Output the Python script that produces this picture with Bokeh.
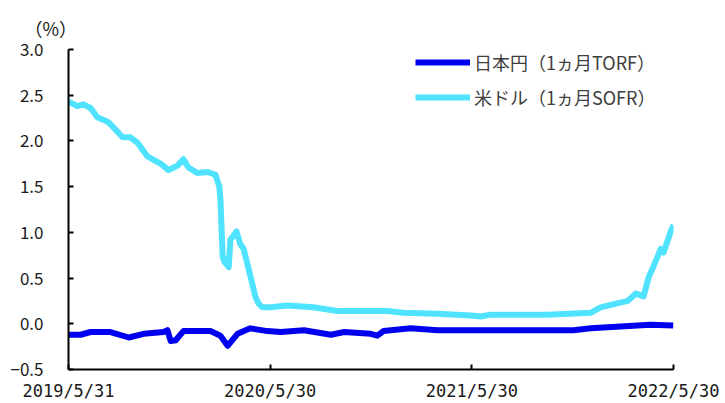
import pandas as pd
from bokeh.plotting import figure
from bokeh.models import FixedTicker, Legend, LegendItem, ColumnDataSource
from bokeh.embed import file_html
from bokeh.resources import INLINE

# ---- data ----
start_date = "2019-05-31"

sofr_dates = ["2019-05-31", "2019-06-16", "2019-06-27", "2019-07-10", "2019-07-22", "2019-08-10",
              "2019-08-20", "2019-09-06", "2019-09-20", "2019-10-03", "2019-10-21", "2019-11-14",
              "2019-11-28", "2019-12-14", "2019-12-25", "2020-01-03", "2020-01-19", "2020-02-07",
              "2020-02-21", "2020-02-28", "2020-03-01", "2020-03-05", "2020-03-08", "2020-03-16",
              "2020-03-19", "2020-03-30", "2020-04-06", "2020-04-12", "2020-04-21", "2020-04-28",
              "2020-05-03", "2020-05-09", "2020-05-16", "2020-05-31", "2020-06-30", "2020-08-16",
              "2020-09-29", "2020-11-28", "2020-12-28", "2021-01-26", "2021-03-29", "2021-05-28",
              "2021-06-15", "2021-07-03", "2021-08-13", "2021-10-14", "2021-12-31", "2022-01-18",
              "2022-03-08", "2022-03-23", "2022-04-06", "2022-04-15", "2022-04-24", "2022-05-07",
              "2022-05-12", "2022-05-25", "2022-05-30"]
sofr_values = [2.43, 2.38, 2.40, 2.36, 2.26, 2.21,
               2.15, 2.04, 2.04, 1.98, 1.83, 1.75,
               1.68, 1.73, 1.80, 1.71, 1.65, 1.66,
               1.63, 1.50, 1.36, 0.74, 0.68, 0.62,
               0.92, 1.01, 0.87, 0.82, 0.60, 0.43,
               0.30, 0.22, 0.18, 0.18, 0.20, 0.18,
               0.14, 0.14, 0.14, 0.12, 0.11, 0.09,
               0.08, 0.10, 0.10, 0.10, 0.12, 0.18,
               0.25, 0.33, 0.30, 0.51, 0.63, 0.82,
               0.78, 1.01, 1.08]

torf_dates = ["2019-05-31", "2019-06-22", "2019-07-10", "2019-08-15", "2019-09-17", "2019-10-14",
              "2019-11-19", "2019-11-26", "2019-12-02", "2019-12-11", "2019-12-25", "2020-02-12",
              "2020-03-01", "2020-03-14", "2020-04-01", "2020-04-24", "2020-05-25", "2020-06-18",
              "2020-07-30", "2020-09-17", "2020-10-11", "2020-11-28", "2020-12-10", "2020-12-21",
              "2021-02-08", "2021-03-29", "2021-05-28", "2021-08-13", "2021-11-30", "2021-12-31",
              "2022-04-18", "2022-05-30"]
torf_values = [-0.12, -0.12, -0.09, -0.09, -0.15, -0.11,
               -0.09, -0.07, -0.19, -0.18, -0.08, -0.08,
               -0.13, -0.24, -0.11, -0.05, -0.08, -0.09,
               -0.07, -0.12, -0.09, -0.11, -0.13, -0.08,
               -0.05, -0.07, -0.07, -0.07, -0.07, -0.05,
               -0.01, -0.02]

series_names = ["日本円（1ヵ月TORF）", "米ドル（1ヵ月SOFR）"]

x_tick_dates = ["2019-05-31", "2020-05-30", "2021-05-30", "2022-05-30"]
x_tick_labels = ["2019/5/31", "2020/5/30", "2021/5/30", "2022/5/30"]

y_ticks = [-0.5, 0.0, 0.5, 1.0, 1.5, 2.0, 2.5, 3.0]
y_tick_labels = ["−0.5", "0.0", "0.5", "1.0", "1.5", "2.0", "2.5", "3.0"]

unit_label = "（%）"

# ---- helpers ----
t0 = pd.Timestamp(start_date)
def days(ds):
    return [(pd.Timestamp(d) - t0).days for d in ds]

sofr_src = ColumnDataSource(dict(x=days(sofr_dates), y=sofr_values))
torf_src = ColumnDataSource(dict(x=days(torf_dates), y=torf_values))
xt = days(x_tick_dates)

FONT = "Noto Sans CJK JP"
MONO = "DejaVu Sans Mono"

p = figure(width=725, height=403, output_backend="svg", toolbar_location=None,
           x_range=(xt[0], xt[-1]), y_range=(y_ticks[0], y_ticks[-1]),
           min_border_left=68, min_border_right=52, min_border_top=49, min_border_bottom=32)
p.outline_line_color = None
p.xgrid.visible = False
p.ygrid.visible = False
p.background_fill_color = "white"
p.border_fill_color = "white"

r_torf = p.line("x", "y", source=torf_src, line_color="#0000F0", line_width=6, line_join="round")
r_sofr = p.line("x", "y", source=sofr_src, line_color="#4FE3FF", line_width=6, line_join="round")
p.renderers = [r_sofr, r_torf]

# axes
for ax in (p.xaxis[0], p.yaxis[0]):
    ax.axis_line_color = "black"
    ax.axis_line_width = 2
    ax.major_tick_line_color = "black"
    ax.major_tick_line_width = 2
    ax.major_tick_in = 5
    ax.major_tick_out = 0
    ax.minor_tick_line_color = None
    ax.major_label_text_color = "#1a1a1a"

p.xaxis.ticker = FixedTicker(ticks=xt)
p.xaxis.major_label_overrides = {float(v): lab for v, lab in zip(xt, x_tick_labels)}
p.xaxis.major_label_standoff = 11
p.xaxis.major_label_text_font = MONO
p.xaxis.major_label_text_font_size = "17px"

p.yaxis.ticker = FixedTicker(ticks=y_ticks)
p.yaxis.major_label_overrides = {float(v): lab for v, lab in zip(y_ticks, y_tick_labels)}
p.yaxis.major_label_standoff = 25
p.yaxis.major_label_text_font = FONT
p.yaxis.major_label_text_font_size = "17px"

# unit label as title
p.title.text = unit_label
p.title.align = "left"
p.title.offset = -44
p.title.standoff = 18
p.title.text_font = FONT
p.title.text_font_size = "18px"
p.title.text_font_style = "normal"
p.title.text_color = "#1a1a1a"

legend = Legend(items=[LegendItem(label=series_names[0], renderers=[r_torf]),
                       LegendItem(label=series_names[1], renderers=[r_sofr])],
                location=(347, 259), orientation="vertical")
legend.border_line_color = None
legend.background_fill_alpha = 0
legend.padding = 0
legend.margin = 0
legend.spacing = 9
legend.glyph_width = 55
legend.glyph_height = 20
legend.label_height = 20
legend.label_standoff = 4
legend.label_text_font = FONT
legend.label_text_font_size = "18px"
legend.label_text_color = "#404040"
p.add_layout(legend, "center")

open("out.html", "w").write(file_html(p, INLINE))
